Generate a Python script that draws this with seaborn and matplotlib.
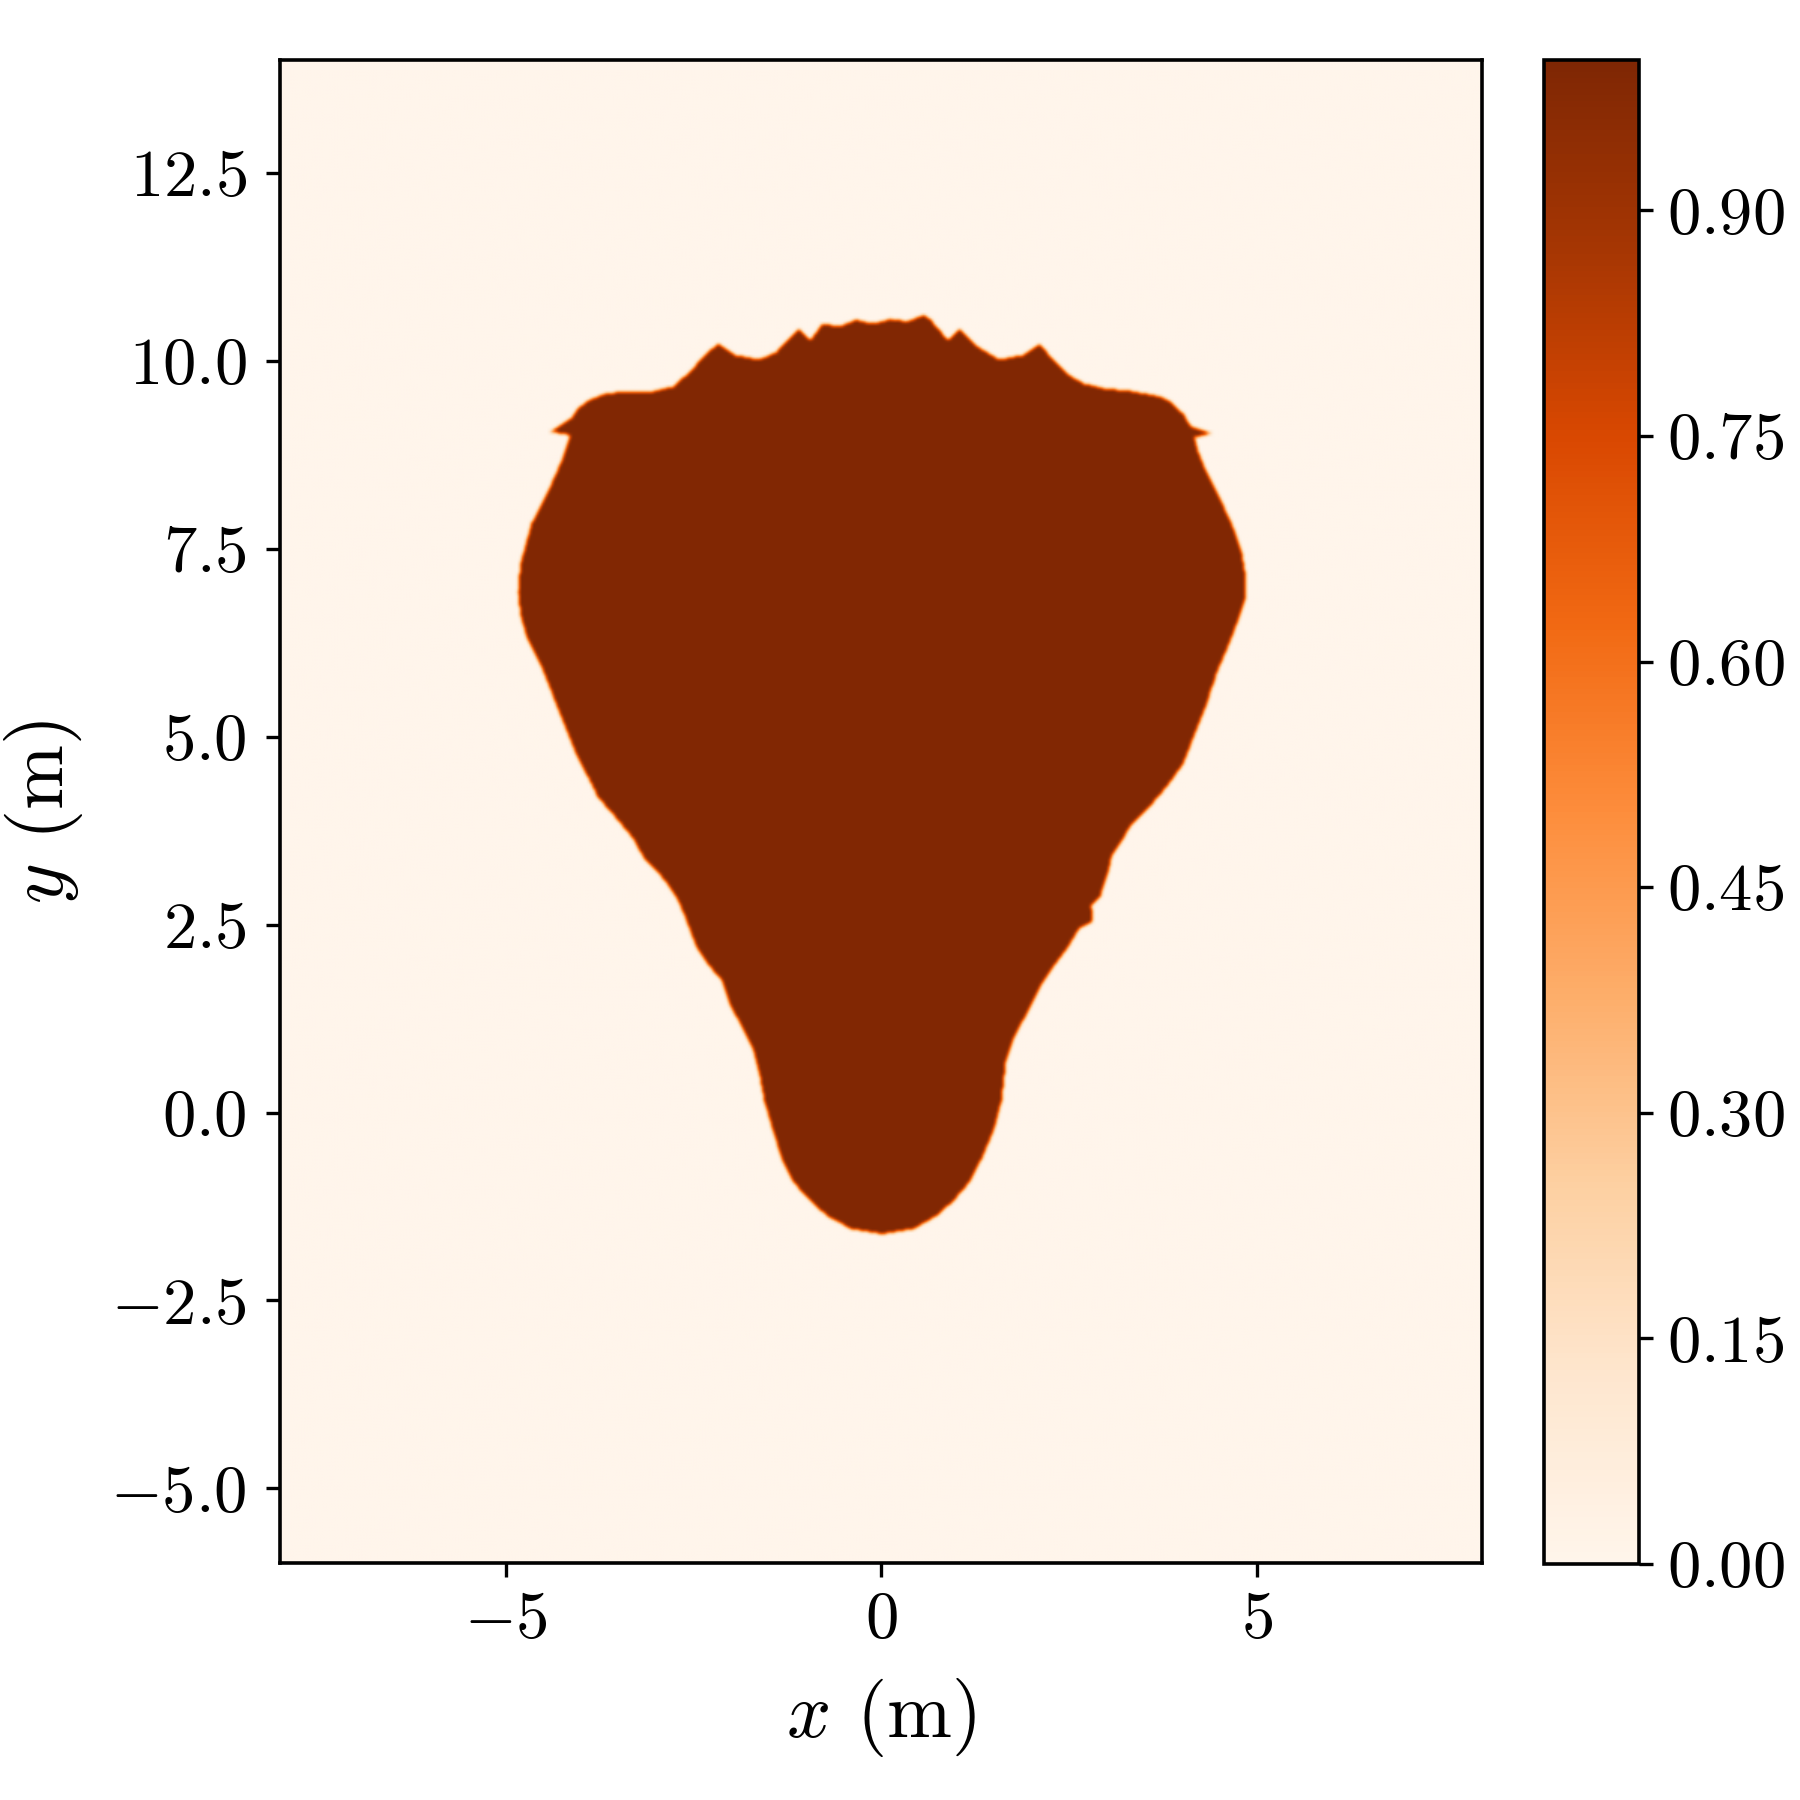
import numpy as np
import matplotlib
matplotlib.use("Agg")
import matplotlib.pyplot as plt
from matplotlib.path import Path
from matplotlib.ticker import FuncFormatter
import seaborn as sns

# domain of the field (m)
x_lim = [-8.0, 8.0]
y_lim = [-6.0, 14.0]

# outline of the dense fluid region (m), counter-clockwise from the bottom
blob_x = [0.00, 0.43, 0.73, 0.96, 1.18, 1.34, 1.50, 1.60, 1.66, 1.76, 1.88, 2.00, 2.11, 2.26,
          2.49, 2.64, 2.80, 2.82, 2.79, 2.92, 3.02, 3.07, 3.18, 3.33, 3.53, 3.71, 3.86, 4.02,
          4.17, 4.32, 4.47, 4.63, 4.75, 4.85, 4.85, 4.80, 4.68, 4.52, 4.34, 4.22, 4.17, 4.40,
          4.12, 4.02, 3.86, 3.71, 3.33, 2.95, 2.70, 2.49, 2.26, 2.11, 1.88, 1.57, 1.27, 1.04,
          0.89, 0.73, 0.58, 0.35, 0.12, -0.11, -0.34, -0.56, -0.79, -0.95, -1.10, -1.40, -1.63,
          -1.94, -2.17, -2.32, -2.55, -2.78, -3.08, -3.39, -3.69, -3.92, -4.05, -4.12, -4.40,
          -4.15, -4.26, -4.46, -4.66, -4.81, -4.84, -4.81, -4.72, -4.53, -4.38, -4.23, -4.08,
          -3.92, -3.77, -3.54, -3.31, -3.16, -2.98, -2.85, -2.70, -2.58, -2.47, -2.32, -2.12,
          -2.02, -1.86, -1.71, -1.63, -1.56, -1.45, -1.33, -1.18, -0.95, -0.72, -0.41]
blob_y = [-1.63, -1.56, -1.39, -1.19, -0.93, -0.62, -0.24, 0.14, 0.67, 0.98, 1.20, 1.43, 1.66,
          1.89, 2.20, 2.45, 2.52, 2.70, 2.73, 2.88, 3.19, 3.41, 3.57, 3.83, 4.02, 4.22, 4.41,
          4.63, 5.02, 5.40, 5.85, 6.23, 6.54, 6.84, 7.15, 7.45, 7.80, 8.15, 8.50, 8.80, 8.98,
          9.04, 9.13, 9.30, 9.45, 9.53, 9.60, 9.64, 9.70, 9.82, 10.05, 10.23, 10.08, 10.02,
          10.20, 10.43, 10.27, 10.47, 10.62, 10.53, 10.56, 10.50, 10.55, 10.46, 10.50, 10.27,
          10.43, 10.12, 10.02, 10.08, 10.23, 10.12, 9.86, 9.66, 9.59, 9.60, 9.56, 9.47, 9.36,
          9.25, 9.06, 9.01, 8.67, 8.22, 7.84, 7.30, 6.92, 6.62, 6.31, 5.93, 5.55, 5.17, 4.79,
          4.48, 4.18, 3.92, 3.64, 3.37, 3.19, 3.03, 2.80, 2.50, 2.20, 1.97, 1.74, 1.43, 1.13,
          0.82, 0.52, 0.14, -0.24, -0.62, -0.93, -1.19, -1.39, -1.56]

inside_value = 0.99
outside_value = 0.0

x_ticks = [-5, 0, 5]
y_ticks = [-5.0, -2.5, 0.0, 2.5, 5.0, 7.5, 10.0, 12.5]
cbar_ticks = [0.00, 0.15, 0.30, 0.45, 0.60, 0.75, 0.90]


def smooth(a, n=5):
    k = np.ones(n) / n
    a = np.apply_along_axis(lambda r: np.convolve(r, k, mode="same"), 0, a)
    a = np.apply_along_axis(lambda r: np.convolve(r, k, mode="same"), 1, a)
    return a


# volume fraction on a regular grid
xs = np.linspace(x_lim[0], x_lim[1], 801)
ys = np.linspace(y_lim[0], y_lim[1], 1001)
X, Y = np.meshgrid(xs, ys)
outline = Path(np.column_stack([blob_x, blob_y]))
mask = outline.contains_points(np.column_stack([X.ravel(), Y.ravel()])).reshape(X.shape)
field = np.where(mask, inside_value, outside_value)
field = smooth(smooth(field, 3), 3)

sns.set_theme(style="ticks")
plt.rcParams["font.family"] = "serif"
plt.rcParams["font.serif"] = ["cmr10", "DejaVu Serif"]
plt.rcParams["mathtext.fontset"] = "cm"
plt.rcParams["axes.unicode_minus"] = False

cmap = sns.color_palette("Oranges", as_cmap=True)

fig = plt.figure(figsize=(9, 9), dpi=200)
ax = fig.add_axes([0.1556, 0.1311, 0.668, 0.8356])
cax = fig.add_axes([0.858, 0.1311, 0.0528, 0.8356])

im = ax.imshow(field, extent=[x_lim[0], x_lim[1], y_lim[0], y_lim[1]], origin="lower",
               cmap=cmap, vmin=0.0, vmax=1.0, interpolation="bilinear", aspect="equal")
ax.set_xlim(x_lim)
ax.set_ylim(y_lim)
ax.set_xticks(x_ticks)
ax.set_yticks(y_ticks)
ax.xaxis.set_major_formatter(FuncFormatter(lambda v, p: f"${v:.0f}$"))
ax.yaxis.set_major_formatter(FuncFormatter(lambda v, p: f"${v:.1f}$"))
ax.tick_params(labelsize=24, length=5, width=1.2, color="black", labelcolor="black")
ax.tick_params(axis="x", pad=5)
ax.tick_params(axis="y", pad=7)
for s in ax.spines.values():
    s.set_linewidth(1.3)
    s.set_color("black")
ax.set_xlabel("$x$ (m)", fontsize=28, color="black", labelpad=9)
ax.set_ylabel("$y$ (m)", fontsize=28, color="black", labelpad=9)

cb = fig.colorbar(im, cax=cax, ticks=cbar_ticks)
cb.ax.yaxis.set_major_formatter(FuncFormatter(lambda v, p: f"${v:.2f}$"))
cb.ax.tick_params(labelsize=24, length=5, width=1.2, color="black", labelcolor="black", pad=5)
cb.outline.set_linewidth(1.3)
cb.outline.set_edgecolor("black")

fig.savefig("out.png", dpi=200, facecolor="white")
